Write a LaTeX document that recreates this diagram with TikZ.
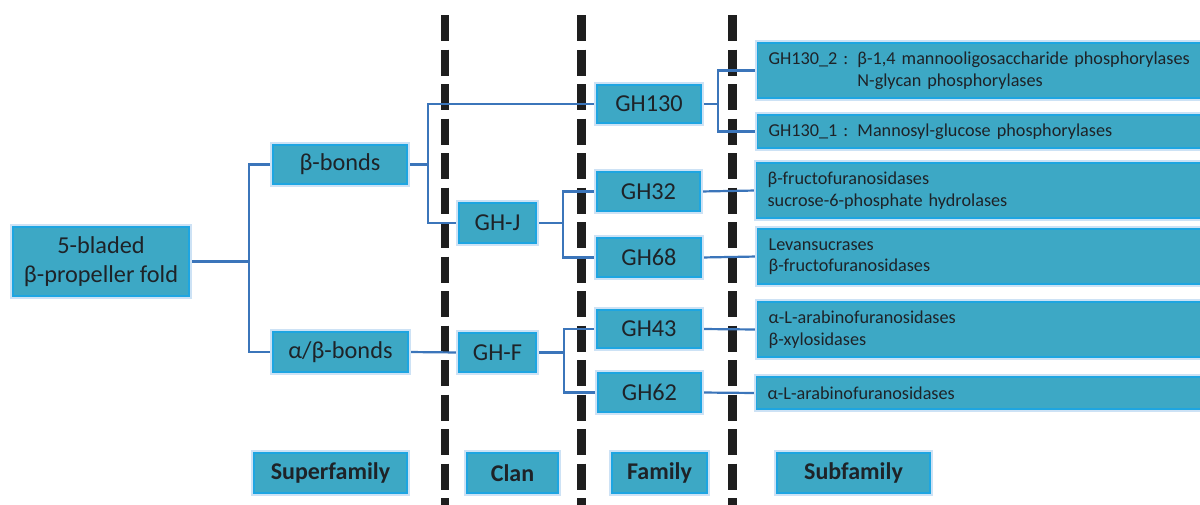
\documentclass[tikz,border=0pt]{standalone}
\usepackage{fontspec}
\setmainfont{Carlito}
\usetikzlibrary{backgrounds}
\definecolor{boxfill}{RGB}{61,168,197}
\definecolor{boxline}{RGB}{30,165,225}
\definecolor{glowc}{RGB}{205,226,245}
\definecolor{connc}{RGB}{59,117,186}
\definecolor{dashc}{RGB}{30,30,30}
\definecolor{txtc}{RGB}{30,35,40}
\tikzset{
  box/.style={draw=boxline, line width=1.2pt, fill=boxfill, text=txtc, inner sep=0pt,
    preaction={draw=glowc, line width=6pt}, font=\fontsize{24.3}{28.5}\selectfont, align=center},
  subbox/.style={box, anchor=west, align=left, inner xsep=11pt, text width=440pt,
    font=\fontsize{18.2}{21.5}\selectfont},
  lbl/.style={box, font=\bfseries\fontsize{24}{28}\selectfont, minimum height=40pt},
  link/.style={draw=connc, line width=2.2pt},
  sep/.style={draw=dashc, line width=8.5pt, dash pattern=on 26pt off 8.5pt}
}
\begin{document}
\begin{tikzpicture}[x=1pt,y=-1pt]
\useasboundingbox (0,0) rectangle (1200,504);
\clip (0,0) rectangle (1200,504);
% main tree nodes
\node[box, minimum width=176pt, minimum height=69pt] (fold) at (101,261.5) {5-bladed\\β-propeller fold};
\node[box, minimum width=134pt, minimum height=39pt] (bb) at (340,164.5) {β-bonds};
\node[box, minimum width=135pt, minimum height=40pt] (ab) at (340.5,352) {α/β-bonds};
\node[box, minimum width=77pt, minimum height=40pt] (ghj) at (497.5,223) {GH-J};
\node[box, minimum width=77pt, minimum height=39pt] (ghf) at (497.5,352.5) {GH-F};
\node[box, minimum width=104pt, minimum height=38pt] (gh130) at (649,104) {GH130};
\node[box, minimum width=103pt, minimum height=39pt] (gh32) at (648.5,191.5) {GH32};
\node[box, minimum width=104pt, minimum height=39pt] (gh68) at (649,257.5) {GH68};
\node[box, minimum width=104pt, minimum height=38pt] (gh43) at (649,329) {GH43};
\node[box, minimum width=103pt, minimum height=39pt] (gh62) at (649.5,392.5) {GH62};
% subfamily boxes
\node[subbox, minimum height=55pt] (s1) at (757,70.5) {GH130\_2 : β-1,4 mannooligosaccharide phosphorylases\\\phantom{GH130\_2 : }N-glycan phosphorylases};
\node[subbox, minimum height=33pt] (s2) at (757,131.5) {GH130\_1 : Mannosyl-glucose phosphorylases};
\node[subbox, minimum height=55pt] (s3) at (756,190.5) {β-fructofuranosidases\\sucrose-6-phosphate hydrolases};
\node[subbox, minimum height=55pt] (s4) at (757,256.5) {Levansucrases\\β-fructofuranosidases};
\node[subbox, minimum height=55pt] (s5) at (757,329.5) {α-L-arabinofuranosidases\\β-xylosidases};
\node[subbox, minimum height=32pt] (s6) at (756,393) {α-L-arabinofuranosidases};
% bottom labels
\node[lbl, minimum width=153pt] (lsf) at (330.5,473) {Superfamily};
\node[lbl, minimum width=91pt] (lclan) at (512.5,473) {Clan};
\node[lbl, minimum width=95pt] (lfam) at (659.5,473) {Family};
\node[lbl, minimum width=153pt] (lsub) at (853.5,473) {Subfamily};
% junctions
\coordinate (j1) at (249,261.5);
\coordinate (j2) at (428,164.5);
\coordinate (j3) at (563,223);
\coordinate (j4) at (564,352.5);
\coordinate (j5) at (718,104);
\begin{pgfonlayer}{background}
\draw[sep] (445,15) -- (445,515);
\draw[sep] (581.5,15) -- (581.5,515);
\draw[sep] (732.5,15) -- (732.5,515);
\draw[link] (fold.east) -- (j1);
\draw[link] (bb.west) -| (j1) |- (ab.west);
\draw[link] (bb.east) -- (j2);
\draw[link] (gh130.west) -| (j2) |- (ghj.west);
\draw[link] (ab.east) -- (ghf.west);
\draw[link] (ghj.east) -- (j3);
\draw[link] (gh32.west) -| (j3) |- (gh68.west);
\draw[link] (ghf.east) -- (j4);
\draw[link] (gh43.west) -| (j4) |- (gh62.west);
\draw[link] (gh130.east) -- (j5);
\draw[link] (s1.west) -| (j5) |- (s2.west);
\draw[link] (gh32.east) -- (s3.west);
\draw[link] (gh68.east) -- (s4.west);
\draw[link] (gh43.east) -- (s5.west);
\draw[link] (gh62.east) -- (s6.west);
\end{pgfonlayer}
\end{tikzpicture}
\end{document}
